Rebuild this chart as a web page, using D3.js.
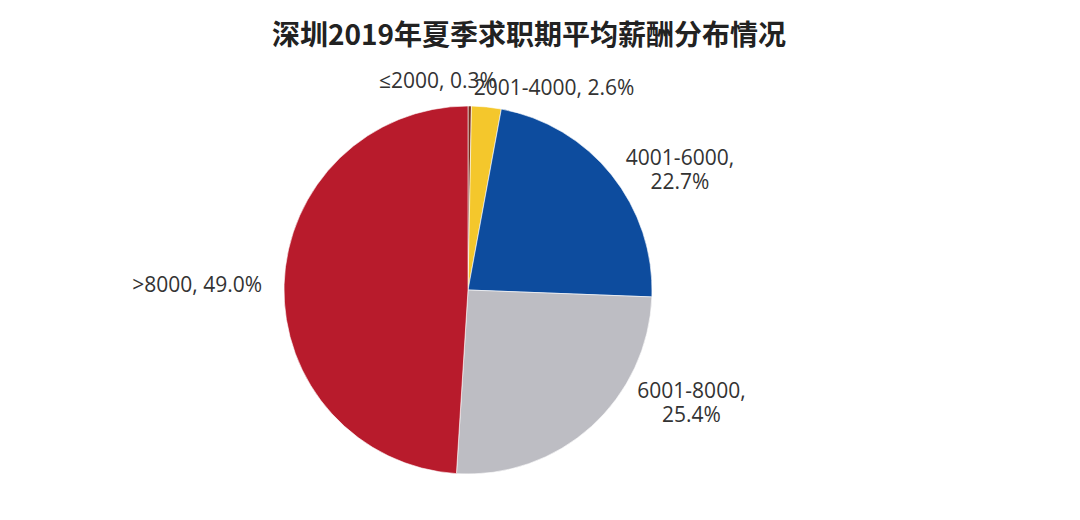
<!DOCTYPE html>
<html>
<head>
<meta charset="utf-8">
<script src="https://cdn.jsdelivr.net/npm/d3@7"></script>
<style>
  body { margin: 0; background: #fff; }
  svg { display: block; }
  .lbl { font-family: "Open Sans", "Noto Sans", sans-serif; font-size: 21px; fill: #333; }
</style>
</head>
<body>
<svg id="chart" width="1080" height="520"></svg>
<script>
	// data
	const title = '深圳2019年夏季求职期平均薪酬分布情况';
	const categories = ['≤2000', '2001-4000', '4001-6000', '6001-8000', '>8000'];
	const shares = [0.3, 2.6, 22.7, 25.4, 49.0];
	const colors = ['#7a2a1c', '#f4c72c', '#0d4c9e', '#bdbdc3', '#b81b2c'];

	// label layout, relative to a point just outside the slice
	const labelLayout = [
		{ anchor: 'end', dx: 27, dy: -6, split: false },
		{ anchor: 'start', dx: -14, dy: 0, split: false },
		{ anchor: 'middle', dx: 59, dy: -2, split: true },
		{ anchor: 'middle', dx: 92, dy: -37, split: true },
		{ anchor: 'end', dx: -10, dy: 8, split: false }
	];

	const svg = d3.select('#chart');
	const cx = 468, cy = 290, r = 184;

	svg.append('text')
		.attr('x', 529)
		.attr('y', 45)
		.attr('text-anchor', 'middle')
		.style('font-family', '"Noto Sans CJK SC", sans-serif')
		.style('font-weight', 'bold')
		.style('font-size', '28px')
		.style('fill', '#222')
		.text(title);

	const pie = d3.pie().sort(null).value(d => d);
	const arcs = pie(shares);
	const arc = d3.arc().innerRadius(0).outerRadius(r);

	const g = svg.append('g').attr('transform', `translate(${cx},${cy})`);

	g.selectAll('path')
		.data(arcs)
		.enter()
		.append('path')
		.attr('d', arc)
		.attr('fill', (d, i) => colors[i])
		.attr('stroke', '#fff')
		.attr('stroke-width', 0.6);

	const labels = g.selectAll('text.lbl')
		.data(arcs)
		.enter()
		.append('text')
		.attr('class', 'lbl')
		.attr('text-anchor', (d, i) => labelLayout[i].anchor)
		.attr('transform', (d, i) => {
			const a = (d.startAngle + d.endAngle) / 2;
			const x = Math.sin(a) * (r + 12) + labelLayout[i].dx;
			const y = -Math.cos(a) * (r + 12) + labelLayout[i].dy;
			return `translate(${x},${y})`;
		});

	labels.each(function (d, i) {
		const t = d3.select(this);
		const pct = shares[i].toFixed(1) + '%';
		if (labelLayout[i].split) {
			t.append('tspan').attr('x', 0).attr('y', 0).text(categories[i] + ',');
			t.append('tspan').attr('x', 0).attr('y', 24).text(pct);
		} else {
			t.text(categories[i] + ', ' + pct);
		}
	});
</script>
</body>
</html>
